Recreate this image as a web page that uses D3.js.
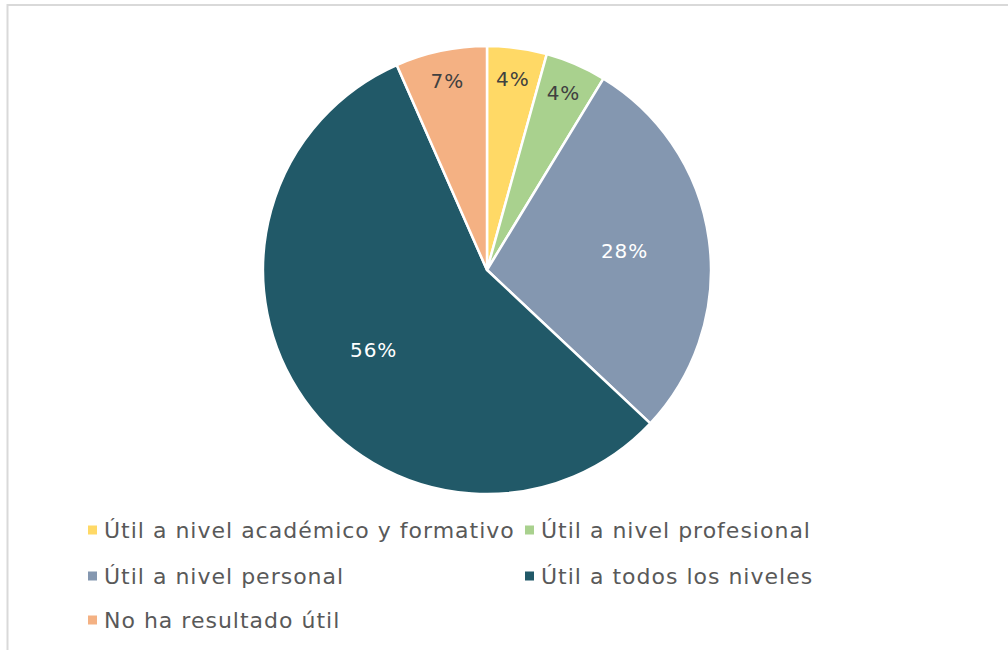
<!DOCTYPE html>
<html><head><meta charset="utf-8">
<script src="https://cdn.jsdelivr.net/npm/d3@7"></script>
<style>body{margin:0;background:#fff}svg{display:block}</style>
</head><body>
<svg id="c" width="1008" height="650"></svg>
<script>
const categories = ["Útil a nivel académico y formativo","Útil a nivel profesional","Útil a nivel personal","Útil a todos los niveles","No ha resultado útil"];
const values = [4.3, 4.4, 28.3, 56.4, 6.6];
const labels = ["4%","4%","28%","56%","7%"];
const colors = ["#ffd966","#a9d18e","#8497b0","#215968","#f4b183"];
const labelColors = ["#404040","#404040","#ffffff","#ffffff","#404040"];

const svg = d3.select("#c");
svg.append("rect").attr("x",7.5).attr("y",5).attr("width",1010).attr("height",660)
  .attr("fill","#fff").attr("stroke","#d9d9d9").attr("stroke-width",2);

const cx = 487, cy = 270, r = 224;
const g = svg.append("g").attr("transform",`translate(${cx},${cy})`);
const pie = d3.pie().sort(null).value(d=>d)(values);
const arc = d3.arc().innerRadius(0).outerRadius(r);
g.selectAll("path").data(pie).join("path")
  .attr("d",arc).attr("fill",(d,i)=>colors[i])
  .attr("stroke","#fff").attr("stroke-width",2.5).attr("stroke-linejoin","round");

g.selectAll("text").data(pie).join("text")
  .attr("transform",d=>{
    const k = (d.data < 10) ? 0.86 : 0.62;
    const a = d3.arc().innerRadius(r*k).outerRadius(r*k);
    return `translate(${a.centroid(d)})`;
  })
  .attr("text-anchor","middle").attr("dominant-baseline","central")
  .attr("font-family","DejaVu Sans, Verdana, sans-serif").attr("font-size",20)
  .attr("letter-spacing",1)
  .attr("fill",(d,i)=>labelColors[i]).text((d,i)=>labels[i]);

const legendPos = [[88,530],[525,530],[88,576],[525,576],[88,620]];
const lg = svg.append("g");
categories.forEach((c,i)=>{
  const [x,y] = legendPos[i];
  lg.append("rect").attr("x",x).attr("y",y-4.5).attr("width",9).attr("height",9).attr("fill",colors[i]);
  lg.append("text").attr("x",x+16).attr("y",y).attr("dominant-baseline","central")
    .attr("font-family","DejaVu Sans, Verdana, sans-serif").attr("font-size",22)
    .attr("letter-spacing",1)
    .attr("fill","#595959").text(c);
});
</script>
</body></html>
